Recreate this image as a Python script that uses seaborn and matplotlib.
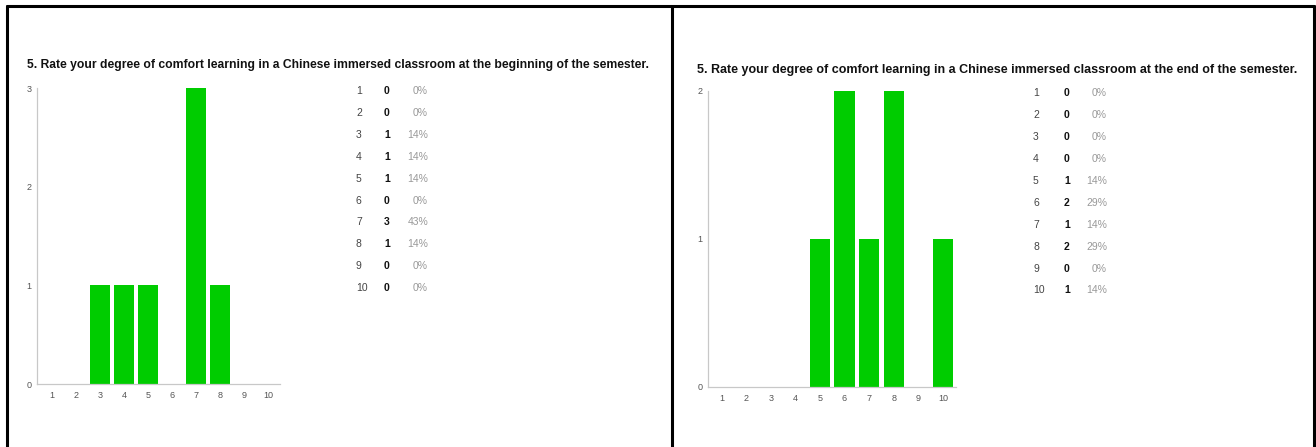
import matplotlib
matplotlib.use('Agg')
import matplotlib.pyplot as plt
from matplotlib.lines import Line2D
import seaborn as sns

W, H = 1316, 447

# dados
categorias = ['1', '2', '3', '4', '5', '6', '7', '8', '9', '10']
inicio = [0, 0, 1, 1, 1, 0, 3, 1, 0, 0]
inicio_pct = ['0%', '0%', '14%', '14%', '14%', '0%', '43%', '14%', '0%', '0%']
fim = [0, 0, 0, 0, 1, 2, 1, 2, 0, 1]
fim_pct = ['0%', '0%', '0%', '0%', '14%', '29%', '14%', '29%', '0%', '14%']

titulo_inicio = "5. Rate your degree of comfort learning in a Chinese immersed classroom at the beginning of the semester."
titulo_fim = "5. Rate your degree of comfort learning in a Chinese immersed classroom at the end of the semester."

sns.set_style('white')
plt.rcParams['font.family'] = ['Liberation Sans', 'DejaVu Sans']

VERDE = '#00cc00'
CINZA = '#c8c8c8'

fig = plt.figure(figsize=(W / 100, H / 100), dpi=100)


def fx(x):
    return x / W


def fy(y):
    return 1 - y / H


def painel(x0, x1, y_top, y_zero, ymax, xlim, valores):
    ax = fig.add_axes([fx(x0), fy(y_zero), fx(x1 - x0), (y_zero - y_top) / H])
    sns.barplot(x=categorias, y=valores, order=categorias, ax=ax,
                color=VERDE, saturation=1, width=0.82, edgecolor='none')
    ax.set_xlim(*xlim)
    ax.set_ylim(0, ymax)
    ax.set_yticks(range(ymax + 1))
    ax.set_facecolor('none')
    for s in ['top', 'right']:
        ax.spines[s].set_visible(False)
    for s in ['left', 'bottom']:
        ax.spines[s].set_color(CINZA)
        ax.spines[s].set_linewidth(0.9)
    ax.tick_params(axis='y', length=3, width=0.6, color=CINZA, pad=1,
                   labelsize=6.5, labelcolor='#555555', direction='out')
    ax.tick_params(axis='x', length=0, pad=5, labelsize=6.5, labelcolor='#555555')
    ax.set_xlabel('')
    ax.set_ylabel('')
    return ax


painel(37, 280, 88, 384, 3, (-0.63, 9.5), inicio)
painel(708, 956, 91, 387, 2, (-0.55, 9.53), fim)

# titulos: ajusta o tamanho da fonte para caber na largura da imagem original
renderer = fig.canvas.get_renderer()


def titulo(x0, x1, y, texto):
    t = fig.text(fx(x0), fy(y), texto, fontsize=10, fontweight='bold',
                 va='center', ha='left', color='#111111')
    largura = t.get_window_extent(renderer).width
    t.set_fontsize(10 * (x1 - x0) / largura)
    return t


titulo(27, 650, 65, titulo_inicio)
titulo(697, 1300, 70, titulo_fim)


def tabela(x_cat, x_cnt, x_pct, y0, passo, valores, pct):
    for i, c in enumerate(categorias):
        y = fy(y0 + i * passo)
        fig.text(fx(x_cat), y, c, fontsize=7.5, color='#444444', va='center', ha='left')
        fig.text(fx(x_cnt), y, str(valores[i]), fontsize=7.5, color='#111111',
                 fontweight='bold', va='center', ha='center')
        fig.text(fx(x_pct), y, pct[i], fontsize=7.5, color='#999999', va='center', ha='right')


tabela(356, 387, 428, 91, 21.9, inicio, inicio_pct)
tabela(1033, 1067, 1107, 93.3, 21.9, fim, fim_pct)

# moldura preta
lw = 2.2
for (xa, ya, xb, yb) in [(7, 6, 1314, 6), (7, 6, 7, H), (672, 6, 672, H), (1314, 6, 1314, H)]:
    fig.add_artist(Line2D([fx(xa), fx(xb)], [fy(ya), fy(yb)], color='black',
                          linewidth=lw, transform=fig.transFigure))

plt.savefig('out.png', dpi=100)
plt.close()
